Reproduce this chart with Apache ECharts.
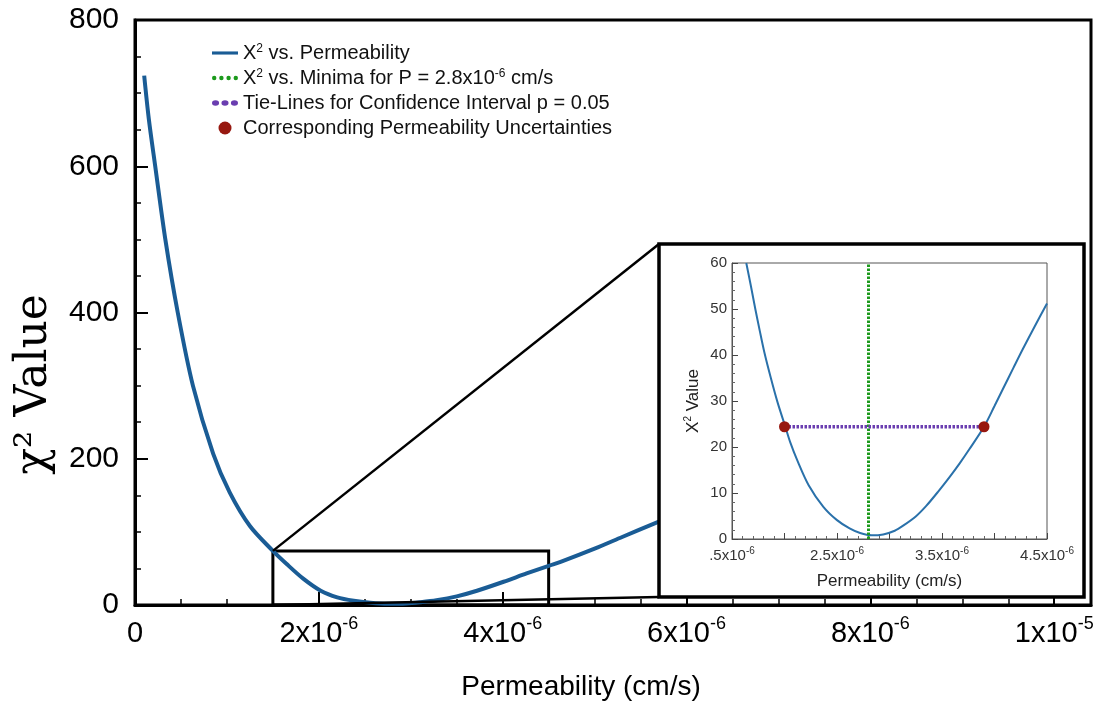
<!DOCTYPE html>
<html><head><meta charset="utf-8">
<script src="https://cdn.jsdelivr.net/npm/echarts@6/dist/echarts.min.js"></script>
<style>html,body{margin:0;padding:0;background:#fff}#c{width:1097px;height:706px}</style>
</head><body><div id="c"></div>
<script>
// Permeability values are in units of 1e-6 cm/s
const mainCurveX = [0.10, 0.15, 0.22, 0.33, 0.465, 0.63, 0.85, 1.03, 1.25, 1.5, 1.65, 1.83, 2.02, 2.2, 2.38, 2.56, 2.75, 2.95, 3.1, 3.28, 3.5, 3.72, 4.01, 4.26, 4.5, 4.63, 5.0, 5.3, 5.64, 6.0];
const mainCurveY = [724, 665, 600, 500, 400, 300, 207, 154, 108, 74, 56, 36, 19.5, 10.5, 5.9, 3.2, 1.8, 2.2, 3.8, 6.5, 11.8, 19.5, 31.8, 43.2, 53.6, 59, 77, 93, 111, 130];
const insetCurveX = [1.636, 1.68, 1.722, 1.765, 1.808, 1.87, 1.934, 2.008, 2.055, 2.12, 2.23, 2.37, 2.5, 2.62, 2.72, 2.83, 2.94, 3.05, 3.13, 3.25, 3.35, 3.46, 3.57, 3.67, 3.76, 3.9, 4.0, 4.08, 4.18, 4.27, 4.38, 4.5];
const insetCurveY = [60, 55, 50, 45.2, 40.6, 35, 29.7, 24.4, 21, 17.2, 11.7, 7, 4.1, 2.3, 1.3, 0.8, 1.0, 1.8, 2.9, 4.9, 7.2, 10.2, 13.4, 16.5, 19.5, 24.4, 28.9, 32.6, 37.2, 41.3, 46.1, 51.2];
const minimaX = [2.8, 2.8];
const minimaY = [0, 60];
const tieX = [2.0, 3.9];
const tieY = [24.4, 24.4];
const uncertX = [2.0, 3.9];
const uncertY = [24.4, 24.4];
const zoomBoxX = [1.5, 4.5];
const zoomBoxY = [0, 74];
const mainXTicks = [0, 2, 4, 6, 8, 10];
const mainXMant = ['0', '2', '4', '6', '8', '1'];
const mainXExp = ['', '-6', '-6', '-6', '-6', '-5'];
const insetXTicks = [1.5, 2.5, 3.5, 4.5];
const insetXMant = ['.5', '2.5', '3.5', '4.5'];
const insetXExp = ['-6', '-6', '-6', '-6'];
const seriesNames = ['X² vs. Permeability', 'X² vs. Minima for P = 2.8x10⁻⁶ cm/s', 'Tie-Lines for Confidence Interval p = 0.05', 'Corresponding Permeability Uncertainties'];
const legendRich = [
  '{t|X}{s|2}{t| vs. Permeability}',
  '{t|X}{s|2}{t| vs. Minima for P = 2.8x10}{s|-6}{t| cm/s}',
  '{t|Tie-Lines for Confidence Interval p = 0.05}',
  '{t|Corresponding Permeability Uncertainties}'
];

const zip = (xs, ys) => xs.map((x, i) => [x, ys[i]]);
const SANS = 'Liberation Sans, Arial, Helvetica, sans-serif';
const C_MAIN = '#1a5c95', C_INSET = '#2a71aa', C_GREEN = '#1c9a1c', C_PURPLE = '#6a3db0', C_RED = '#971810';
const INSET_FRAME = {x: 659, y: 244, w: 425, h: 353};
const ICON_LINE = 'path://M0,0H25V3H0Z';
const ICON_GREEN = 'path://M0,2a2,2 0 1,0 4,0a2,2 0 1,0 -4,0ZM6.5,2a2,2 0 1,0 4,0a2,2 0 1,0 -4,0ZM13,2a2,2 0 1,0 4,0a2,2 0 1,0 -4,0ZM19.5,2a2,2 0 1,0 4,0a2,2 0 1,0 -4,0Z';
const ICON_PURPLE = 'path://M0,2.3a3,2.3 0 1,0 6,0a3,2.3 0 1,0 -6,0ZM8,2.3a3,2.3 0 1,0 6,0a3,2.3 0 1,0 -6,0ZM16,2.3a3,2.3 0 1,0 6,0a3,2.3 0 1,0 -6,0Z';

function findIdx(arr, v) { for (let i = 0; i < arr.length; i++) if (Math.abs(arr[i] - v) < 1e-6) return i; return -1; }

const chart = echarts.init(document.getElementById('c'), null, {renderer: 'canvas'});
const option = {
  animation: false,
  backgroundColor: '#fff',
  grid: [
    {left: 135, right: 6, top: 20, bottom: 100, show: true, borderColor: '#000', borderWidth: 3, z: 0},
    {left: 732, top: 263, width: 315, height: 276, show: true, borderColor: '#555', borderWidth: 1, backgroundColor: 'transparent', z: 11}
  ],
  legend: {
    orient: 'vertical', left: 207, top: 38, itemWidth: 26, itemHeight: 13, itemGap: 5,
    selectedMode: false, symbolKeepAspect: true,
    formatter: name => legendRich[seriesNames.indexOf(name)],
    textStyle: {
      fontFamily: SANS, color: '#111',
      rich: {
        t: {fontSize: 20, fontFamily: SANS, color: '#111', lineHeight: 20},
        s: {fontSize: 12, fontFamily: SANS, color: '#111', verticalAlign: 'top', lineHeight: 10}
      }
    },
    data: [
      {name: seriesNames[0], icon: ICON_LINE, itemStyle: {color: C_MAIN}},
      {name: seriesNames[1], icon: ICON_GREEN, itemStyle: {color: C_GREEN}},
      {name: seriesNames[2], icon: ICON_PURPLE, itemStyle: {color: C_PURPLE}},
      {name: seriesNames[3], icon: 'circle', itemStyle: {color: C_RED}}
    ]
  },
  xAxis: [
    {
      type: 'value', gridIndex: 0, min: 0, max: 10.4, interval: 2, position: 'bottom',
      name: 'Permeability (cm/s)', nameLocation: 'middle', nameGap: 68,
      nameTextStyle: {fontSize: 28, fontFamily: SANS, color: '#000', padding: [0, 64, 0, 0]},
      axisLine: {show: true, onZero: false, lineStyle: {color: '#000', width: 3}},
      axisTick: {show: true, inside: true, length: 13, lineStyle: {color: '#000', width: 2}},
      splitLine: {show: false},
      axisLabel: {
        margin: 10, showMaxLabel: false,
        formatter: v => { const i = findIdx(mainXTicks, v); if (i < 0) return ''; if (!mainXExp[i]) return '{m|' + mainXMant[i] + '}'; return '{m|' + mainXMant[i] + 'x10}{e|' + mainXExp[i] + '}'; },
        rich: {
          m: {fontSize: 29, fontFamily: SANS, color: '#000', lineHeight: 38},
          e: {fontSize: 18, fontFamily: SANS, color: '#000', verticalAlign: 'top', lineHeight: 18}
        }
      }
    },
    {
      type: 'value', gridIndex: 0, min: 0, max: 10.4, interval: 0.5, position: 'bottom', offset: 0,
      axisLine: {show: false}, axisLabel: {show: false}, splitLine: {show: false},
      axisTick: {show: true, inside: true, length: 6, lineStyle: {color: '#000', width: 1.5}}
    },
    {
      type: 'value', gridIndex: 1, min: 1.5, max: 4.5, interval: 0.5, position: 'bottom', z: 12,
      name: 'Permeability (cm/s)', nameLocation: 'middle', nameGap: 34,
      nameTextStyle: {fontSize: 17, fontFamily: SANS, color: '#222'},
      axisLine: {show: true, onZero: false, lineStyle: {color: '#555', width: 1}},
      axisTick: {show: true, inside: true, length: 6, lineStyle: {color: '#444', width: 1}},
      minorTick: {show: true, splitNumber: 5, length: 3, lineStyle: {color: '#666', width: 1}},
      splitLine: {show: false}, minorSplitLine: {show: false},
      axisLabel: {
        margin: 7,
        formatter: v => { const i = findIdx(insetXTicks, v); if (i < 0) return ''; return '{m|' + insetXMant[i] + 'x10}{e|' + insetXExp[i] + '}'; },
        rich: {
          m: {fontSize: 15, fontFamily: SANS, color: '#333', lineHeight: 20},
          e: {fontSize: 10, fontFamily: SANS, color: '#333', verticalAlign: 'top', lineHeight: 10}
        }
      }
    }
  ],
  yAxis: [
    {
      type: 'value', gridIndex: 0, min: 0, max: 800, interval: 200,
      name: 'χ² Value', nameLocation: 'middle', nameGap: 78,
      nameTextStyle: {fontSize: 44, fontFamily: 'DejaVu Serif, Liberation Serif, serif', color: '#000', padding: [0, 144, 0, 0]},
      axisLine: {show: true, onZero: false, lineStyle: {color: '#000', width: 3}},
      axisTick: {show: true, inside: true, length: 13, lineStyle: {color: '#000', width: 2}},
      minorTick: {show: true, splitNumber: 4, length: 6, lineStyle: {color: '#000', width: 1.5}},
      splitLine: {show: false},
      axisLabel: {margin: 16, fontSize: 30, fontFamily: SANS, color: '#000'}
    },
    {
      type: 'value', gridIndex: 1, min: 0, max: 60, interval: 10, z: 12,
      name: '{t|X}{s|2}{t| Value}', nameLocation: 'middle', nameGap: 29,
      nameTextStyle: {
        fontSize: 17, fontFamily: SANS, color: '#222',
        rich: {
          t: {fontSize: 17, fontFamily: SANS, color: '#222', lineHeight: 20},
          s: {fontSize: 10, fontFamily: SANS, color: '#222', verticalAlign: 'top', lineHeight: 10}
        }
      },
      axisLine: {show: true, onZero: false, lineStyle: {color: '#555', width: 1}},
      axisTick: {show: true, inside: true, length: 6, lineStyle: {color: '#444', width: 1}},
      minorTick: {show: true, splitNumber: 5, length: 3, lineStyle: {color: '#666', width: 1}},
      splitLine: {show: false}, minorSplitLine: {show: false},
      axisLabel: {margin: 5, fontSize: 15, fontFamily: SANS, color: '#333'}
    }
  ],
  series: [
    {
      name: seriesNames[0], type: 'line', xAxisIndex: 0, yAxisIndex: 0, z: 2,
      data: zip(mainCurveX, mainCurveY), smooth: 0.3, symbol: 'none',
      lineStyle: {color: C_MAIN, width: 4}, itemStyle: {color: C_MAIN},
      markArea: {
        silent: true,
        itemStyle: {color: 'rgba(0,0,0,0)', borderColor: '#000', borderWidth: 3},
        data: [[{coord: [zoomBoxX[0], zoomBoxY[0]]}, {coord: [zoomBoxX[1], zoomBoxY[1]]}]]
      }
    },
    {
      name: seriesNames[0], type: 'line', xAxisIndex: 2, yAxisIndex: 1, z: 13,
      data: zip(insetCurveX, insetCurveY), smooth: 0.3, symbol: 'none', clip: true,
      lineStyle: {color: C_INSET, width: 2}, itemStyle: {color: C_MAIN}
    },
    {
      name: seriesNames[1], type: 'line', xAxisIndex: 2, yAxisIndex: 1, z: 13,
      data: zip(minimaX, minimaY), symbol: 'none',
      lineStyle: {color: C_GREEN, width: 3, type: [2.5, 1.5]}, itemStyle: {color: C_GREEN}
    },
    {
      name: seriesNames[2], type: 'line', xAxisIndex: 2, yAxisIndex: 1, z: 13,
      data: zip(tieX, tieY), symbol: 'none',
      lineStyle: {color: C_PURPLE, width: 3.5, type: [2.5, 1.5]}, itemStyle: {color: C_PURPLE}
    },
    {
      name: seriesNames[3], type: 'scatter', xAxisIndex: 2, yAxisIndex: 1, z: 14,
      data: zip(uncertX, uncertY), symbol: 'circle', symbolSize: 11,
      itemStyle: {color: C_RED, opacity: 1}
    }
  ]
};
chart.setOption(option);

const pTop = chart.convertToPixel({xAxisIndex: 0, yAxisIndex: 0}, [zoomBoxX[0], zoomBoxY[1]]);
const pBot = chart.convertToPixel({xAxisIndex: 0, yAxisIndex: 0}, [zoomBoxX[0], zoomBoxY[0]]);
chart.setOption({
  graphic: {
    elements: [
      {type: 'rect', z: 10, silent: true,
       shape: {x: INSET_FRAME.x, y: INSET_FRAME.y, width: INSET_FRAME.w, height: INSET_FRAME.h},
       style: {fill: '#fff', stroke: '#000', lineWidth: 3.5}},
      {type: 'line', z: 10, silent: true,
       shape: {x1: pTop[0], y1: pTop[1], x2: INSET_FRAME.x, y2: INSET_FRAME.y},
       style: {stroke: '#000', lineWidth: 2.5}},
      {type: 'line', z: 10, silent: true,
       shape: {x1: pBot[0], y1: pBot[1], x2: INSET_FRAME.x, y2: INSET_FRAME.y + INSET_FRAME.h},
       style: {stroke: '#000', lineWidth: 2.5}}
    ]
  }
});
</script>
</body></html>
